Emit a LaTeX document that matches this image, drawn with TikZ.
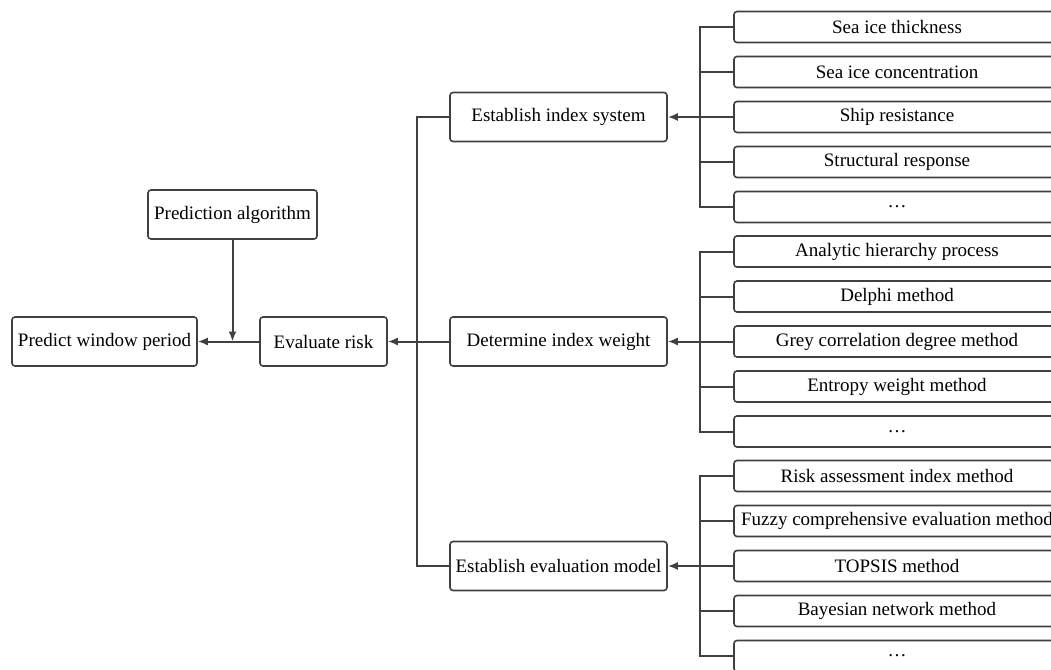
\documentclass[tikz,border=0pt]{standalone}
\usepackage{fontspec}
\setmainfont{Liberation Serif}
\usetikzlibrary{arrows.meta}
\definecolor{linegray}{HTML}{404040}
\tikzset{
	box/.style={draw=linegray, line width=1.6pt, rounded corners=3pt, fill=white,
		minimum height=49pt, inner sep=0pt, font=\fontsize{19}{22}\selectfont},
	leaf/.style={box, minimum width=326pt, minimum height=31pt},
	link/.style={draw=linegray, line width=2pt},
	arr/.style={link, -{Latex[length=10pt,width=8pt]}}
}
\begin{document}
\begin{tikzpicture}[x=1pt,y=-1pt]
		\clip (0,0) rectangle (1051,669);
		% left part
		\node[box, minimum width=169pt] (pred) at (232.5,214.5) {Prediction algorithm};
		\node[box, minimum width=185pt] (window) at (104.5,341.5) {Predict window period};
		\node[box, minimum width=127pt] (risk) at (323.5,341.5) {Evaluate risk};
		\draw[arr] (risk.west) -- (window.east);
		\draw[arr] (pred.south) -- (pred.south |- window.east);
		
		% middle
		\node[box, minimum width=217pt] (index) at (558.5,117) {Establish index system};
		\node[box, minimum width=217pt] (weight) at (558.5,341.5) {Determine index weight};
		\node[box, minimum width=217pt] (model) at (558.5,566) {Establish evaluation model};
		\coordinate (ltrunk) at (417,341.5);
		\draw[link] (index.west) -| (ltrunk) |- (model.west);
		\draw[arr] (weight.west) -- (risk.east);
		
		% leaves
		\foreach \t [count=\i] in {Sea ice thickness, Sea ice concentration, Ship resistance, Structural response, \dots}
		\node[leaf] (s\i) at (897,{117+45*(\i-3)}) {\t};
		\foreach \t [count=\i] in {Analytic hierarchy process, Delphi method, Grey correlation degree method, Entropy weight method, \dots}
		\node[leaf] (w\i) at (897,{341.5+45*(\i-3)}) {\t};
		\foreach \t [count=\i] in {Risk assessment index method, Fuzzy comprehensive evaluation method, TOPSIS method, Bayesian network method, \dots}
		\node[leaf] (m\i) at (897,{566+45*(\i-3)}) {\t};
		
		% branches
		\foreach \g/\mid in {s/index, w/weight, m/model} {
			\coordinate (\g trunk) at (700,0);
			\draw[link] (\g1.west) -| (\g trunk |- \g1.west) |- (\g5.west);
			\foreach \i in {2,4}
			\draw[link] (\g\i.west) -- (\g\i.west -| \g trunk);
			\draw[arr] (\g3.west) -- (\mid.east);
		}
\end{tikzpicture}
\end{document}
